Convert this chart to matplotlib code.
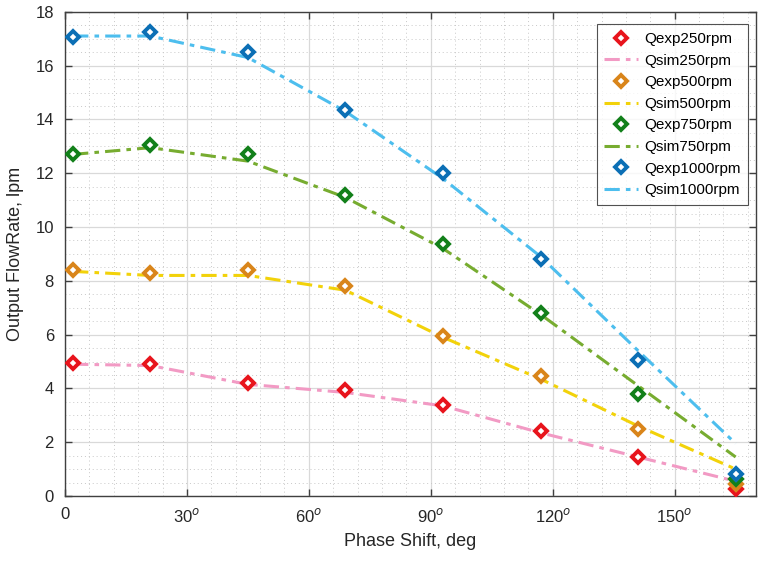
import matplotlib
matplotlib.use('Agg')
import matplotlib.pyplot as plt
from matplotlib.ticker import MultipleLocator

plt.rcParams['font.family'] = ['Liberation Sans', 'DejaVu Sans']
plt.rcParams['mathtext.fontset'] = 'custom'
plt.rcParams['mathtext.rm'] = 'Liberation Sans'

# phase shift in degrees
phase = [2, 21, 45, 69, 93, 117, 141, 165]

# measured flow rates, lpm
qexp250 = [4.95, 4.9, 4.2, 3.95, 3.4, 2.4, 1.45, 0.25]
qexp500 = [8.4, 8.3, 8.4, 7.8, 5.95, 4.45, 2.5, 0.45]
qexp750 = [12.7, 13.05, 12.7, 11.2, 9.35, 6.8, 3.8, 0.65]
qexp1000 = [17.07, 17.25, 16.5, 14.35, 12.0, 8.8, 5.05, 0.8]

# simulated flow rates, lpm
qsim250 = [4.9, 4.85, 4.15, 3.85, 3.35, 2.35, 1.45, 0.55]
qsim500 = [8.35, 8.2, 8.2, 7.65, 5.9, 4.35, 2.6, 1.0]
qsim750 = [12.7, 12.95, 12.45, 11.1, 9.2, 6.75, 4.1, 1.45]
qsim1000 = [17.1, 17.1, 16.3, 14.3, 11.8, 8.9, 5.4, 1.95]

xtick_vals = [0, 30, 60, 90, 120, 150]
xtick_labels = ['0', '30$^o$', '60$^o$', '90$^o$', '120$^o$', '150$^o$']

fig = plt.figure(figsize=(7.61, 5.63), dpi=100)
ax = fig.add_axes([0.0854, 0.119, 0.908, 0.86])

series = [
    ('250', qexp250, qsim250, '#e8141c', '#f29ac4'),
    ('500', qexp500, qsim500, '#d9851a', '#f2d20a'),
    ('750', qexp750, qsim750, '#12801a', '#77ac30'),
    ('1000', qexp1000, qsim1000, '#0b6fb5', '#4dbeee'),
]

for rpm, qe, qs, cexp, csim in series:
    ax.plot(phase, qe, linestyle='none', marker='D', markersize=6.5,
            markerfacecolor='white', markeredgecolor=cexp, markeredgewidth=2.8,
            label='Qexp' + rpm + 'rpm', zorder=4)
    ax.plot(phase, qs, linestyle=(0, (5, 2, 1.5, 2)), color=csim, linewidth=2.2,
            label='Qsim' + rpm + 'rpm', zorder=3)

ax.set_xlim(0, 170)
ax.set_ylim(0, 18)
ax.set_xticks(xtick_vals)
ax.set_xticklabels(xtick_labels)
ax.xaxis.set_minor_locator(MultipleLocator(6))
ax.yaxis.set_major_locator(MultipleLocator(2))
ax.yaxis.set_minor_locator(MultipleLocator(0.5))

ax.grid(which='major', color='#d9d9d9', linewidth=0.9)
ax.grid(which='minor', color='#c8c8c8', linestyle=(0, (1, 3)), linewidth=0.7)
ax.set_axisbelow(True)

ax.tick_params(which='major', direction='in', length=5, width=1, colors='#404040',
               top=True, right=True, labelsize=12, labelcolor='#262626', pad=8)
ax.tick_params(which='minor', length=0)
for s in ax.spines.values():
    s.set_color('#404040')
    s.set_linewidth(1.0)

ax.set_xlabel('Phase Shift, deg', fontsize=13, color='#262626', labelpad=6)
ax.set_ylabel('Output FlowRate, lpm', fontsize=13, color='#262626', labelpad=8)

leg = ax.legend(loc='upper right', fontsize=11, frameon=True, fancybox=False,
                edgecolor='#262626', handlelength=2.2, handletextpad=0.4,
                borderpad=0.5, labelspacing=0.5, bbox_to_anchor=(1.0, 0.99))
leg.get_frame().set_linewidth(0.8)

fig.savefig('out.png', dpi=100)
